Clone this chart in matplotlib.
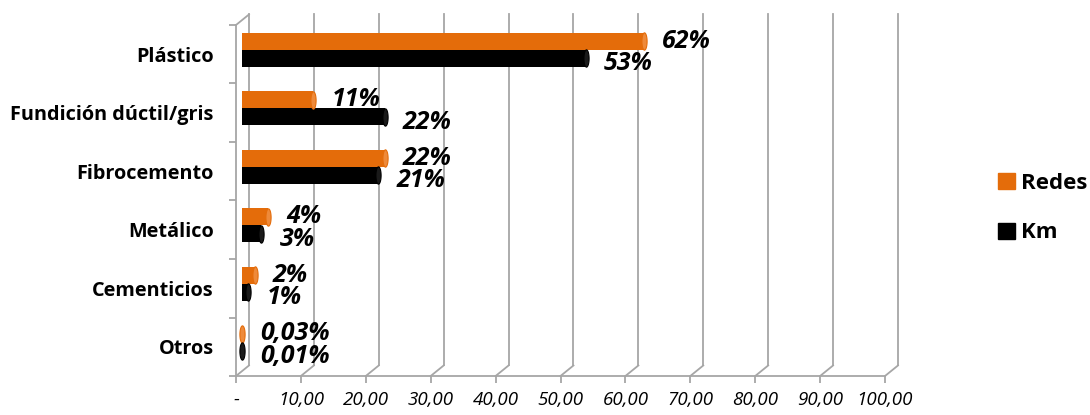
import numpy as np
import matplotlib.pyplot as plt
from matplotlib.patches import Patch
from matplotlib.path import Path

plt.rcParams['font.family'] = ['Open Sans', 'DejaVu Sans']

# Datos: porcentaje por material
materiales = ["Plástico", "Fundición dúctil/gris", "Fibrocemento",
              "Metálico", "Cementicios", "Otros"]
redes = [62, 11, 22, 4, 2, 0.03]
km = [53, 22, 21, 3, 1, 0.01]
ticks_x = [0, 10, 20, 30, 40, 50, 60, 70, 80, 90, 100]
ticks_x_txt = ["-", "10,00", "20,00", "30,00", "40,00", "50,00",
               "60,00", "70,00", "80,00", "90,00", "100,00"]

naranja = "#E46C0A"
gris = "#A6A6A6"

def etiqueta(v):
    if float(v).is_integer():
        return f"{int(v)}%"
    return f"{v:.2f}".replace(".", ",") + "%"

fig = plt.figure(figsize=(10.9, 4.15), dpi=100)
ax = fig.add_axes([236 / 1090, 1 - 376 / 415, 649 / 1090, 351 / 415])
ax.set_xlim(0, 100)
ax.set_ylim(5.5, -0.5)

y = np.arange(len(materiales))

# pared del fondo desplazada (efecto 3D)
dxw, dyw = 2.0, -0.18
for t in ticks_x:
    ax.plot([t + dxw, t + dxw], [5.5 + dyw, -0.5 + dyw], color=gris, lw=1.3,
            clip_on=False, zorder=1)
    ax.plot([t, t + dxw], [5.5, 5.5 + dyw], color=gris, lw=1.3,
            clip_on=False, zorder=1)
ax.plot([0, dxw], [-0.5, -0.5 + dyw], color=gris, lw=1.3, clip_on=False)

# barras
dxb, dyb = 0.9, -0.08
h = 0.29
ax.barh(y - h / 2 + dyb, redes, height=h, left=dxb, color=naranja, zorder=3)
ax.barh(y + h / 2 + dyb, km, height=h, left=dxb, color="black", zorder=3)

# tapas de los cilindros
t = np.linspace(0, 2 * np.pi, 40)
elipse = Path(np.column_stack([0.3 * np.cos(t), np.sin(t)]), closed=True)
ax.scatter(np.array(redes) + dxb, y - h / 2 + dyb, marker=elipse, s=155,
           color="#EE8A3A", edgecolors=naranja, linewidths=0.8, zorder=4)
ax.scatter(np.array(km) + dxb, y + h / 2 + dyb, marker=elipse, s=155,
           color="#1a1a1a", edgecolors="black", linewidths=0.8, zorder=4)

# etiquetas de valores
for i in range(len(materiales)):
    ax.text(redes[i] + dxb + 2.8, y[i] - h / 2 + dyb, etiqueta(redes[i]),
            fontsize=18, fontweight="bold", fontstyle="italic",
            va="center", ha="left", zorder=5)
    ax.text(km[i] + dxb + 2.8, y[i] + h / 2 + dyb + 0.1, etiqueta(km[i]),
            fontsize=18, fontweight="bold", fontstyle="italic",
            va="center", ha="left", zorder=5)

# ejes
for s in ["top", "right"]:
    ax.spines[s].set_visible(False)
ax.spines["left"].set_color(gris)
ax.spines["bottom"].set_color(gris)
ax.spines["left"].set_linewidth(1.3)
ax.spines["bottom"].set_linewidth(1.3)

ax.set_yticks(np.arange(-0.5, 6, 1))
ax.set_yticklabels([])
ax.set_yticks(y, minor=True)
ax.set_yticklabels(materiales, minor=True, fontsize=14.3, fontweight="bold")
ax.tick_params(axis="y", which="major", length=5, color=gris, width=1.3)
ax.tick_params(axis="y", which="minor", length=0, pad=16)

ax.set_xticks(ticks_x)
ax.set_xticklabels(ticks_x_txt, fontsize=13.5, fontstyle="italic")
ax.tick_params(axis="x", length=5, color=gris, width=1.3, pad=6)

# leyenda
handles = [Patch(color=naranja, label="Redes"), Patch(color="black", label="Km")]
fig.legend(handles=handles, loc="center left",
           bbox_to_anchor=(978 / 1090, 1 - 208 / 415), frameon=False,
           prop={"size": 16, "weight": "bold"}, handlelength=0.75,
           handleheight=0.75, handletextpad=0.3, labelspacing=1.3)

fig.savefig("out.png", dpi=100)
